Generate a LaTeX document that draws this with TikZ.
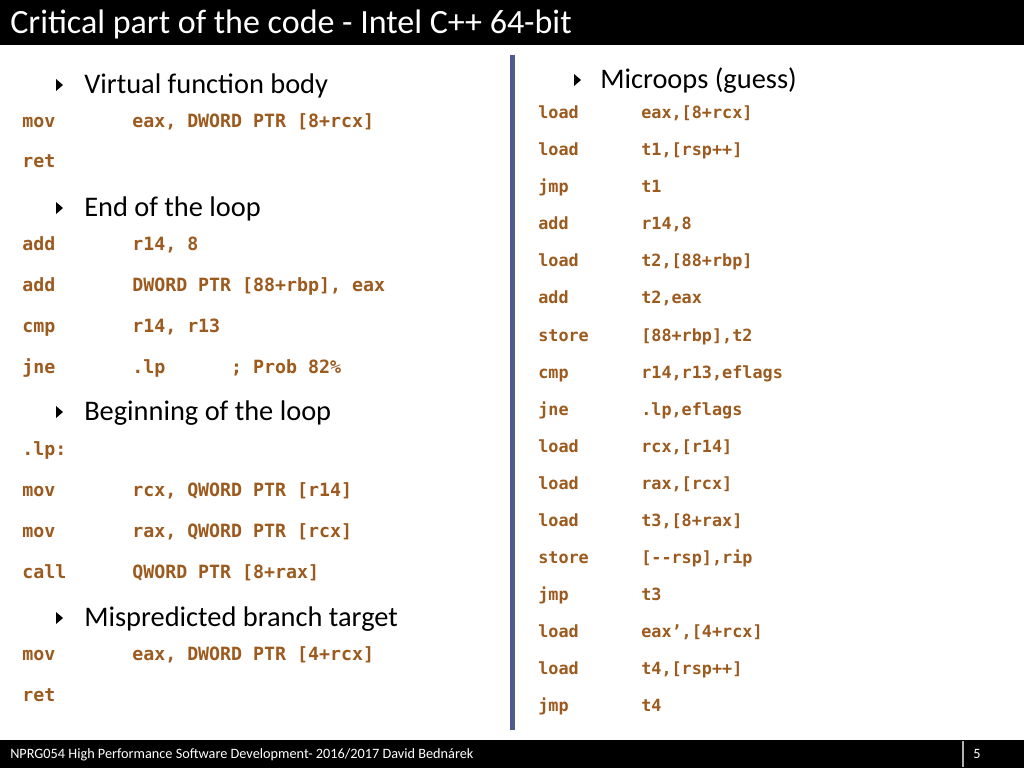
\documentclass[tikz,border=0pt]{standalone}
\usepackage{fontspec}
\setmainfont{Carlito}
\newfontfamily\codefont{DejaVu Sans Mono}
\definecolor{codec}{HTML}{9C5A1E}
\definecolor{barc}{HTML}{4F5B8F}
\begin{document}
\begin{tikzpicture}[x=0.75pt,y=-0.75pt,
 code/.style={anchor=base west,inner sep=0pt,text=codec,font=\codefont\bfseries\fontsize{13.7}{16}\selectfont},
 rcode/.style={code,font=\codefont\bfseries\fontsize{12.6}{14}\selectfont},
 head/.style={anchor=base west,inner sep=0pt,font=\fontsize{21.3}{24}\selectfont},
 tri/.style={fill=black}]
\useasboundingbox (0,0) rectangle (1024,768);
\fill[white] (0,0) rectangle (1024,768);
\fill[black] (0,0) rectangle (1024,45);
\node[anchor=base west,inner sep=0pt,text=white,font=\fontsize{25.5}{28}\selectfont] (title) at (10,33) {Critical part of the code - Intel C++ 64-bit};
\fill[black] (0,740) rectangle (1024,768);
\draw[gray!60,line width=0.8pt] (963,741) -- (963,767);
\node[anchor=base west,inner sep=0pt,text=white,font=\fontsize{10.7}{12}\selectfont] (foot) at (10,758) {NPRG054 High Performance Software Development- 2016/2017 David Bednárek};
\node[anchor=base,inner sep=0pt,text=white,font=\fontsize{10.7}{12}\selectfont] (page) at (977,758) {5};
\fill[barc] (510,55) rectangle (515,730);
\foreach \y/\t in {85/Virtual function body,208/End of the loop,412/Beginning of the loop,618/Mispredicted branch target}{
 \fill[tri] (56,\y-6) -- (63,\y) -- (56,\y+6) -- cycle;
 \node[head] at (84,\y+8) {\t};
}
\foreach \y/\a/\b in {122/mov/{eax, DWORD PTR [8+rcx]},162/ret/{},245/add/{r14, 8},286/add/{DWORD PTR [88+rbp], eax},327/cmp/{r14, r13},368/jne/{.lp~~~~~~; Prob 82\%},450/.lp:/{},491/mov/{rcx, QWORD PTR [r14]},532/mov/{rax, QWORD PTR [rcx]},573/call/{QWORD PTR [8+rax]},655/mov/{eax, DWORD PTR [4+rcx]},696/ret/{}}{
 \node[code] at (22,\y+5) {\a};
 \node[code] at (132,\y+5) {\b};
}
\fill[tri] (574,74) -- (581,80) -- (574,86) -- cycle;
\node[head] (mh) at (600,88) {Microops (guess)};
\foreach \y/\a/\b in {113/load/{eax,[8+rcx]},150/load/{t1,[rsp++]},187/jmp/t1,224/add/{r14,8},261/load/{t2,[88+rbp]},298/add/{t2,eax},336/store/{[88+rbp],t2},373/cmp/{r14,r13,eflags},410/jne/{.lp,eflags},447/load/{rcx,[r14]},484/load/{rax,[rcx]},521/load/{t3,[8+rax]},558/store/{[--rsp],rip},595/jmp/t3,632/load/{eax’,[4+rcx]},669/load/{t4,[rsp++]},706/jmp/t4}{
 \node[rcode] at (538,\y+5) {\a};
 \node[rcode] at (641,\y+5) {\b};
}
\end{tikzpicture}
\end{document}
